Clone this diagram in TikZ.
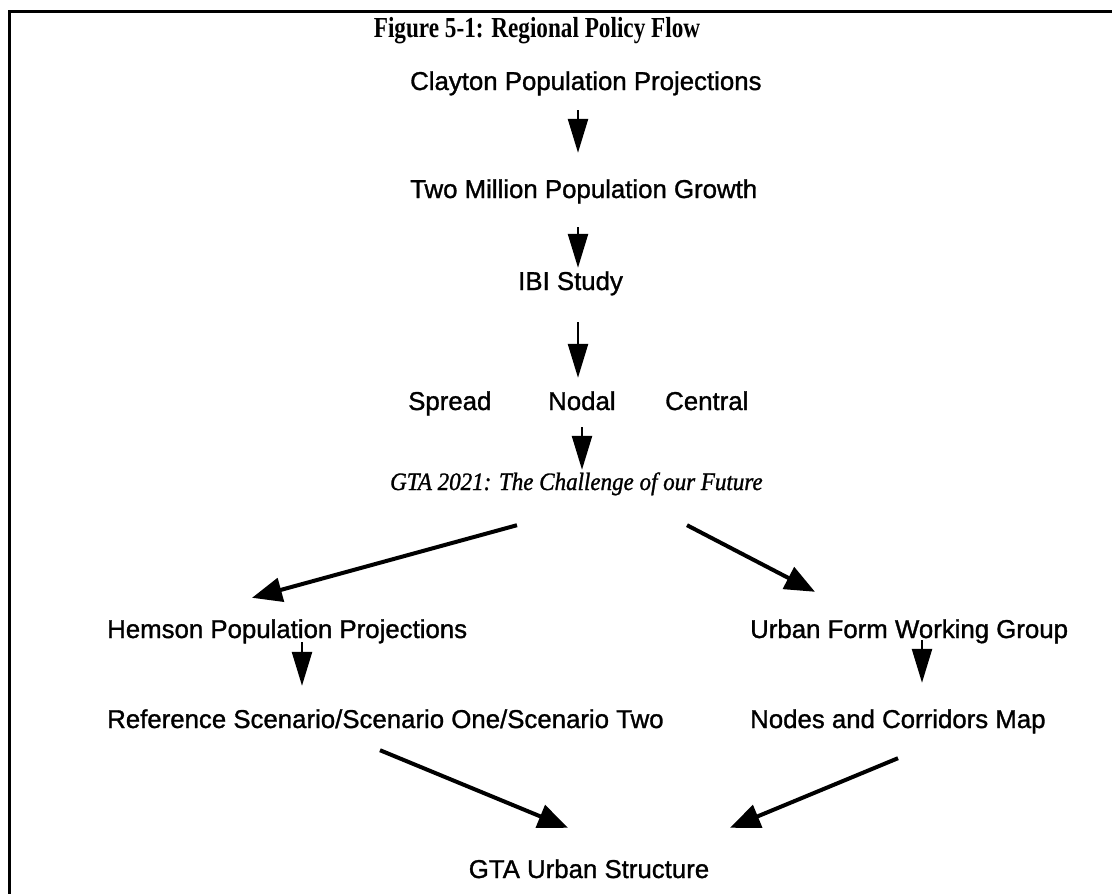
\documentclass[tikz,border=0pt]{standalone}
\usepackage{fontspec}
\setmainfont{Liberation Serif}
\newfontfamily\labelfont[FakeBold=1.2]{Liberation Sans}
\newfontfamily\titlefont[FakeStretch=0.8]{Liberation Serif}
\newfontfamily\slantfont[FakeBold=1.2,FakeStretch=0.92]{Liberation Serif}
\usetikzlibrary{arrows.meta}
\begin{document}
\begin{tikzpicture}[x=1pt,y=-1pt,
  lbl/.style={font={\labelfont\fontsize{25.8}{30}\selectfont}, inner sep=0pt,
    text height=19pt, text depth=5pt, anchor=base west},
  ital/.style={font={\slantfont\itshape\fontsize{25}{30}\selectfont}, inner sep=0pt,
    text height=17pt, text depth=5pt, anchor=base west},
  heading/.style={font={\titlefont\bfseries\fontsize{29}{34}\selectfont}, inner sep=0pt, anchor=base},
  varr/.style={line width=2.5pt, -{Triangle[length=34pt,width=20pt]}},
  darr/.style={line width=4pt, -{Triangle[length=30pt,width=24pt]}}
]
\useasboundingbox (0,0) rectangle (1112,894);
% frame
\draw[line width=3pt] (9.5,894) -- (9.5,11) -- (1112,11);

% texts
\node[heading] (title) at (537,37) {Figure 5-1: Regional Policy Flow};
\node[lbl] (clayton) at (410,90) {Clayton Population Projections};
\node[lbl] (growth) at (410,198) {Two Million Population Growth};
\node[lbl] (ibi) at (518,290) {IBI Study};
\node[lbl] (spread) at (408,410) {Spread};
\node[lbl] (nodal) at (548,410) {Nodal};
\node[lbl] (central) at (665,410) {Central};
\node[ital] (gta) at (390,490) {GTA 2021: The Challenge of our Future};
\node[lbl] (hemson) at (107,638) {Hemson Population Projections};
\node[lbl] (urban) at (750,638) {Urban Form Working Group};
\node[lbl] (scen) at (107,728) {Reference Scenario/Scenario One/Scenario Two};
\node[lbl] (nodes) at (750,728) {Nodes and Corridors Map};
\node[lbl,anchor=base] (structure) at (589,878) {GTA Urban Structure};

% columns of the arrows
\coordinate (cx) at (578,0);
\coordinate (cx2) at (582,0);
\coordinate (lx) at (302,0);
\coordinate (rx) at (922,0);
\coordinate (dl) at (517,0);
\coordinate (dr) at (687,0);
\coordinate (tl) at (252,0);
\coordinate (tr) at (815,0);
\coordinate (bl) at (380,0);
\coordinate (br) at (898,0);
\coordinate (sl) at (568,0);
\coordinate (sr) at (730,0);

% main spine
\draw[varr] ([yshift=-15pt]clayton.south -| cx) -- ([yshift=26pt]growth.north -| cx);
\draw[varr] ([yshift=-24pt]growth.south -| cx) -- ([yshift=3pt]ibi.north -| cx);
\draw[varr] ([yshift=-27pt]ibi.south -| cx) -- ([yshift=13pt]nodal.north -| cx);
\draw[varr] ([yshift=-12pt]nodal.south -| cx2) -- ([yshift=3pt]gta.north -| cx2);

% split
\draw[darr] ([yshift=-30pt]gta.south -| dl) -- ([yshift=21pt]hemson.north -| tl);
\draw[darr] ([yshift=-30pt]gta.south -| dr) -- ([yshift=27pt]urban.north -| tr);

% two branches
\draw[varr] ([yshift=1pt]hemson.south -| lx) -- ([yshift=23pt]scen.north -| lx);
\draw[varr] ([yshift=3pt]urban.south -| rx) -- ([yshift=26pt]nodes.north -| rx);

% merge
\draw[darr] ([yshift=-17pt]scen.south -| bl) -- ([yshift=31pt]structure.north -| sl);
\draw[darr] ([yshift=-25pt]nodes.south -| br) -- ([yshift=31pt]structure.north -| sr);
\end{tikzpicture}
\end{document}
